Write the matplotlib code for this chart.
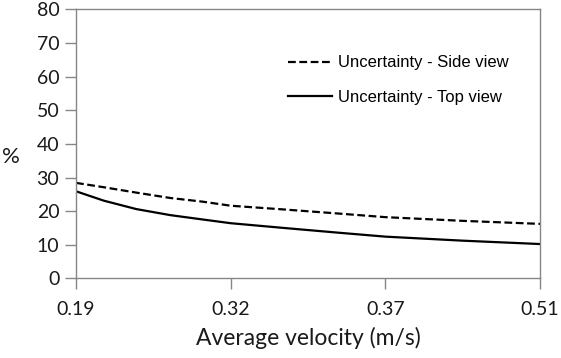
import matplotlib
matplotlib.use("Agg")
import matplotlib.pyplot as plt

# velocity categories (equally spaced on the axis)
velocity_labels = ["0.19", "0.32", "0.37", "0.51"]
tick_pos = [0, 1, 2, 3]

# curves (positions in category units)
sample_pos = [0, 0.18, 0.39, 0.61, 0.82, 1.0, 1.34, 1.69, 2.0, 2.5, 3.0]
side_view = [28.4, 27.1, 25.5, 23.9, 22.8, 21.6, 20.5, 19.3, 18.2, 17.1, 16.2]
top_view = [25.9, 23.1, 20.6, 18.8, 17.5, 16.4, 15.0, 13.6, 12.4, 11.2, 10.2]

fig = plt.figure(figsize=(5.61, 3.58), dpi=100)
ax = fig.add_axes([0.1355, 0.2226, 0.8271, 0.7509])

ax.plot(sample_pos, side_view, color="black", lw=1.6, ls=(0, (3.5, 1.6)),
        label="Uncertainty - Side view")
ax.plot(sample_pos, top_view, color="black", lw=1.6,
        label="Uncertainty - Top view")

ax.set_xlim(0, 3)
ax.set_ylim(0, 80)
ax.set_xticks(tick_pos)
ax.set_xticklabels(velocity_labels)
ax.set_yticks(range(0, 81, 10))

for sp in ax.spines.values():
    sp.set_color("#868686")
    sp.set_linewidth(1.0)
ax.tick_params(axis="both", direction="out", length=8, width=1.0,
               color="#868686", labelsize=14, labelcolor="#1a1a1a")
ax.tick_params(axis="x", pad=8)
ax.tick_params(axis="y", pad=4)
for lbl in ax.get_xticklabels() + ax.get_yticklabels():
    lbl.set_family("Lato")

ax.set_xlabel("Average velocity (m/s)", fontsize=16.5, family="Lato",
              color="#1a1a1a", labelpad=7)
ax.set_ylabel("%", fontsize=16, family="Lato", rotation=0, color="#1a1a1a")
ax.yaxis.set_label_coords(-0.14, 0.415)

leg = ax.legend(loc="upper left", bbox_to_anchor=(0.425, 0.885), frameon=False,
                prop={"family": "Liberation Sans", "size": 12},
                handlelength=2.6, handletextpad=0.4, labelspacing=1.15)

fig.savefig("out.png", dpi=100)
